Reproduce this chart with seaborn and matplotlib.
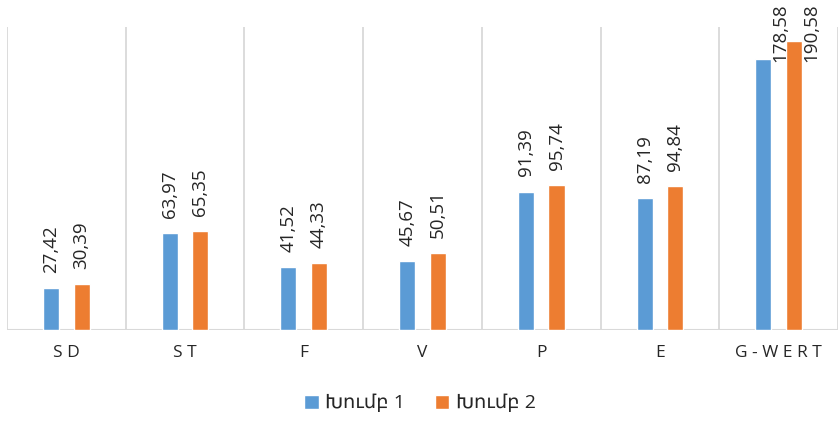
import pandas as pd
import matplotlib
matplotlib.use('Agg')
import matplotlib.pyplot as plt
import seaborn as sns

sns.set_theme(style='white')
plt.rcParams['font.family'] = ['Open Sans', 'DejaVu Sans']

categories = ['S D', 'S T', 'F', 'V', 'P', 'E', 'G - W E R T']
group1 = [27.42, 63.97, 41.52, 45.67, 91.39, 87.19, 178.58]
group2 = [30.39, 65.35, 44.33, 50.51, 95.74, 94.84, 190.58]
series_names = ['Խումբ 1', 'Խումբ 2']
colors = ['#5B9BD5', '#ED7D31']

df = pd.DataFrame({
    'category': categories * 2,
    'value': group1 + group2,
    'group': [series_names[0]] * len(categories) + [series_names[1]] * len(categories),
})

fig = plt.figure(figsize=(8.4, 4.3), dpi=100)
ax = fig.add_axes([0.0083, 0.2326, 0.9893, 0.7046])

sns.barplot(data=df, x='category', y='value', hue='group', palette=colors,
            width=0.516, gap=0.477, saturation=1, ax=ax, legend=True)

ax.set_xlim(-0.5, len(categories) - 0.5)
ax.set_ylim(0, 200)
ax.set_xlabel('')
ax.set_ylabel('')
ax.set_yticks([])
ax.tick_params(axis='x', length=0, pad=11, labelsize=12.5, labelcolor='#262626')
for s in ax.spines.values():
    s.set_visible(False)

# category separators and baseline
for i in range(len(categories) + 1):
    ax.axvline(i - 0.5, color='#d9d9d9', lw=1.3, zorder=0)
ax.axhline(0, color='#d9d9d9', lw=1.5, zorder=0)

# data labels; labels that would leave the figure get pushed down beside the bar
top_limit = 176.7
for bar in ax.patches:
    h = bar.get_height()
    if h <= 0:
        continue
    txt = f'{h:.2f}'.replace('.', ',')
    if h + 10 > top_limit:
        ax.text(bar.get_x() + bar.get_width(), top_limit, txt, rotation=90,
                ha='left', va='bottom', fontsize=13.5, color='#262626', clip_on=False)
    else:
        ax.text(bar.get_x() + bar.get_width() / 2, h + 10, txt, rotation=90,
                ha='center', va='bottom', fontsize=13.5, color='#262626', clip_on=False)

handles, labels = ax.get_legend_handles_labels()
ax.get_legend().remove()
fig.legend(handles, labels, loc='lower center', bbox_to_anchor=(0.5, 0.0), ncol=2,
           frameon=False, fontsize=14, handlelength=0.75, handleheight=0.75,
           handletextpad=0.35, columnspacing=1.5, labelcolor='#262626')

fig.savefig('out.png', dpi=100)
